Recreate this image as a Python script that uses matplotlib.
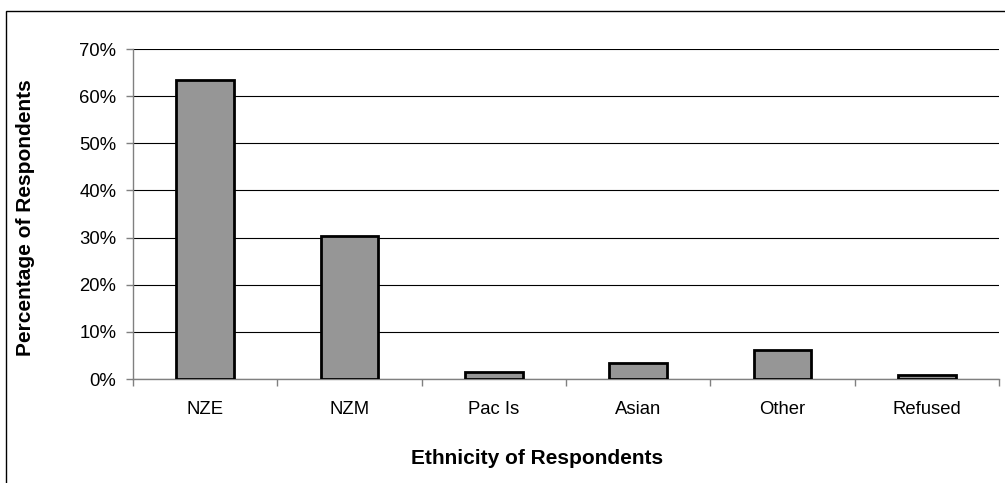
import matplotlib
matplotlib.use('Agg')
import matplotlib.pyplot as plt
from matplotlib.patches import Rectangle
from matplotlib.ticker import FuncFormatter

# Data
categories = ['NZE', 'NZM', 'Pac Is', 'Asian', 'Other', 'Refused']
percent = [63.4, 30.3, 1.4, 3.3, 6.1, 0.9]

plt.rcParams['font.family'] = ['Liberation Sans', 'DejaVu Sans']

W, H = 1005, 483
fig = plt.figure(figsize=(W / 100, H / 100), dpi=100)
ax = fig.add_axes([133 / W, 1 - 379 / H, (999 - 133) / W, (379 - 49) / H])

# outer chart frame (runs off the right and bottom edges)
fig.patches.append(Rectangle((6 / W, -0.1), 1.2, 1.1 - 11 / H, transform=fig.transFigure,
                             fill=False, edgecolor='black', linewidth=1.0))

x = list(range(len(categories)))
ax.bar(x, percent, width=0.4, color='#969696', edgecolor='black', linewidth=2, zorder=3)

ax.set_xlim(-0.5, len(categories) - 0.5)
ax.set_ylim(0, 70)
ax.set_yticks(range(0, 71, 10))
ax.yaxis.set_major_formatter(FuncFormatter(lambda v, p: '%d%%' % v))
ax.grid(axis='y', color='black', linewidth=0.8, zorder=0)

ax.set_xticks(x)
ax.set_xticklabels(categories)
ax.set_xticks([i - 0.5 for i in range(len(categories) + 1)], minor=True)
ax.tick_params(axis='x', which='major', length=0, pad=16, labelsize=13.3)
ax.tick_params(axis='x', which='minor', length=5, color='#808080', width=1)
ax.tick_params(axis='y', length=5, color='#808080', width=1, labelsize=13.3, pad=7)

for s in ['top', 'right']:
    ax.spines[s].set_visible(False)
ax.spines['left'].set_color('#808080')
ax.spines['bottom'].set_color('#808080')
ax.spines['left'].set_linewidth(1)
ax.spines['bottom'].set_linewidth(1)

# axis titles placed where the reference has them
fig.text(537 / W, 1 - 458 / H, 'Ethnicity of Respondents', fontsize=15, fontweight='bold',
         ha='center', va='center')
fig.text(26 / W, 1 - 218 / H, 'Percentage of Respondents', fontsize=15, fontweight='bold',
         ha='center', va='center', rotation=90)

fig.savefig('out.png', dpi=100)
